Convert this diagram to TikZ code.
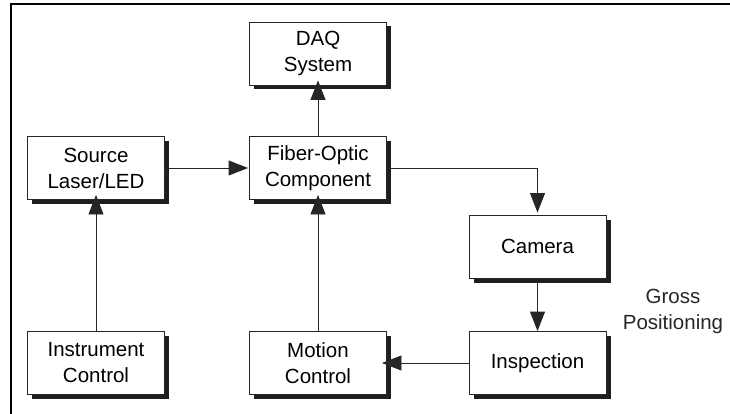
\documentclass[tikz,border=0pt]{standalone}
\usepackage{fontspec}
\setmainfont{Liberation Sans}
\usetikzlibrary{arrows.meta,shadows}

\tikzset{
  blockbox/.style={draw=black!85, line width=0.9pt, fill=white,
    minimum width=137pt, minimum height=63pt, inner sep=0pt,
    align=center, font=\fontsize{20.5}{26}\selectfont,
    general shadow={fill=black!88, shadow xshift=4.5pt, shadow yshift=-4.5pt}},
  arr/.style={draw=black!85, line width=0.9pt,
    -{Triangle[length=19.5pt,width=15pt]}},
  note/.style={align=center, font=\fontsize{20.5}{26}\selectfont, text=black!85},
}

\begin{document}
\begin{tikzpicture}[x=1pt, y=-1pt]
  \useasboundingbox (0,0) rectangle (730,414);

  % frame on the top and left sides
  \draw[line width=2pt] (730,4) -- (11,4) -- (11,414);

  % blocks
  \node[blockbox] (daq)   at (318,53.5)  {DAQ\\System};
  \node[blockbox] (fiber) at (318,168)   {Fiber-Optic\\Component};
  \node[blockbox] (src)   at (96,168)    {Source\\Laser/LED};
  \node[blockbox] (cam)   at (537.5,246.5) {Camera};
  \node[blockbox] (insp)  at (537.5,363) {Inspection};
  \node[blockbox] (instr) at (96,363)    {Instrument\\Control};
  \node[blockbox] (mot)   at (318,363)   {Motion\\Control};

  \node[note] (gross) at (673,311) {Gross\\Positioning};

  % connectors
  \draw[arr, shorten >=-5pt] (fiber) -- (daq);
  \draw[arr, shorten >=1pt] (src) -- (fiber);
  \draw[arr, shorten >=2pt] (fiber.east) -| (cam.north);
  \draw[arr] (cam) -- (insp);
  \draw[arr, shorten >=-5pt] (insp) -- (mot);
  \draw[arr, shorten >=-5pt] (instr) -- (src);
  \draw[arr, shorten >=-5pt] (mot) -- (fiber);
\end{tikzpicture}
\end{document}
